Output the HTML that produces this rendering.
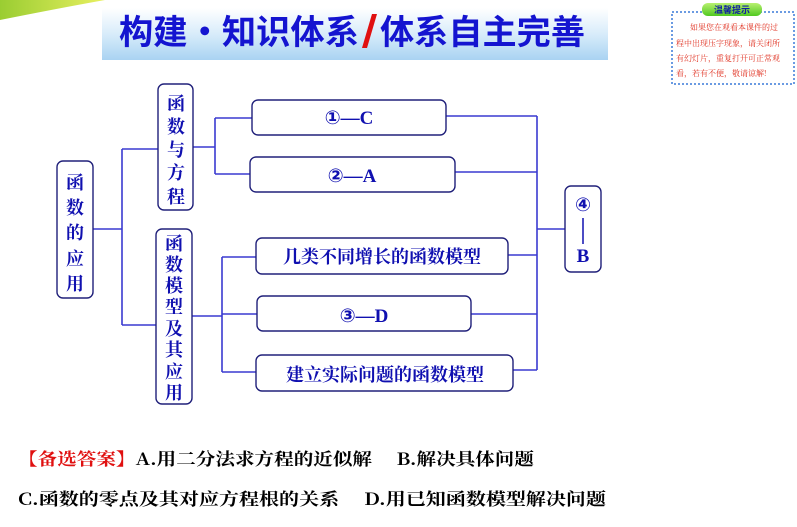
<!DOCTYPE html>
<html><head><meta charset="utf-8"><style>
body{margin:0;width:797px;height:527px;background:#fff;overflow:hidden;position:relative;font-family:"Liberation Serif","Noto Serif CJK SC",serif}
svg{position:absolute;left:0;top:0}
</style></head><body>
<svg width="797" height="527" viewBox="0 0 797 527">
<defs>
<linearGradient id="sw" x1="0" y1="0" x2="1" y2="0"><stop offset="0" stop-color="#9acd32"/><stop offset="1" stop-color="#e8f060"/></linearGradient>
<linearGradient id="bn" x1="0" y1="0" x2="0" y2="1"><stop offset="0" stop-color="#ffffff"/><stop offset="0.5" stop-color="#d8ecfa"/><stop offset="1" stop-color="#a9d3f2"/></linearGradient>
<linearGradient id="tag" x1="0" y1="0" x2="0" y2="1"><stop offset="0" stop-color="#b8f070"/><stop offset="1" stop-color="#50c820"/></linearGradient>
</defs>
<path d="M0,0 L105,0 Q60,8 0,20 Z" fill="url(#sw)"/>
<rect x="102" y="8" width="506" height="52" fill="url(#bn)"/>
<g font-family="'Noto Sans CJK SC',sans-serif" font-size="34" font-weight="bold" fill="#1414d0">
<text x="119" y="44" textLength="240" lengthAdjust="spacingAndGlyphs">构建·知识体系</text>
<text x="380" y="44" textLength="205" lengthAdjust="spacingAndGlyphs">体系自主完善</text>
</g>
<path d="M362,48 L372,14 L377,14 L367,48 Z" fill="#e01010"/>
<rect x="672" y="12" width="122" height="72" fill="#fff" stroke="#3a7ad8" stroke-width="1.5" stroke-dasharray="2,2"/>
<rect x="702" y="3" width="60" height="13" rx="6" fill="url(#tag)"/>
<text x="732" y="13" text-anchor="middle" font-family="'Noto Sans CJK SC',sans-serif" font-size="9" fill="#1020a0" font-weight="bold">温馨提示</text>
<g font-family="'Noto Serif CJK SC',serif" font-size="8" fill="#e03020">
<text x="690" y="30">如果您在观看本课件的过</text>
<text x="676" y="46">程中出现压字现象，请关闭所</text>
<text x="676" y="61">有幻灯片，重复打开可正常观</text>
<text x="676" y="76">看，若有不便，敬请谅解!</text>
</g>
<g stroke="#3a3ad0" stroke-width="1.6" fill="none">
<path d="M93,229 H122 M122,149 V325 M122,149 H158 M122,325 H156"/>
<path d="M193,147 H215 M215,118 V174 M215,118 H252 M215,174 H250"/>
<path d="M192,316 H222 M222,257 V372 M222,257 H256 M222,314 H257 M222,372 H256"/>
<path d="M446,116 H537 M455,172 H537 M508,255 H537 M471,314 H537 M513,370 H537 M537,116 V370 M537,229 H565"/>
</g>
<g stroke="#20207a" stroke-width="1.4" fill="#fff">
<rect x="57" y="161" width="36" height="137" rx="6"/>
<rect x="158" y="84" width="35" height="126" rx="6"/>
<rect x="156" y="229" width="36" height="175" rx="6"/>
<rect x="252" y="100" width="194" height="35" rx="6"/>
<rect x="250" y="157" width="205" height="35" rx="6"/>
<rect x="256" y="238" width="252" height="36" rx="6"/>
<rect x="257" y="296" width="214" height="35" rx="6"/>
<rect x="256" y="355" width="257" height="36" rx="6"/>
<rect x="565" y="186" width="36" height="86" rx="6"/>
</g>
<g font-family="'Noto Serif CJK SC',serif" font-weight="bold" font-size="18" fill="#1010b0" text-anchor="middle">
<text x="75" y="189">函</text><text x="75" y="214">数</text><text x="75" y="239">的</text><text x="75" y="265">应</text><text x="75" y="290">用</text>
<text x="176" y="110">函</text><text x="176" y="133">数</text><text x="176" y="156">与</text><text x="176" y="179">方</text><text x="176" y="203">程</text>
<text x="174" y="250">函</text><text x="174" y="271">数</text><text x="174" y="292">模</text><text x="174" y="313">型</text><text x="174" y="335">及</text><text x="174" y="356">其</text><text x="174" y="378">应</text><text x="174" y="399">用</text>
<text x="382" y="263">几类不同增长的函数模型</text>
<text x="385" y="381">建立实际问题的函数模型</text>
</g>
<g font-family="'Liberation Serif','DejaVu Sans',serif" font-size="19" fill="#1010b0" text-anchor="middle" font-weight="bold">
<text x="349" y="124">①—C</text>
<text x="352" y="182">②—A</text>
<text x="364" y="322">③—D</text>
<text x="583" y="211">④</text>
<text x="583" y="262">B</text>
</g>
<line x1="583" y1="218" x2="583" y2="244" stroke="#1010b0" stroke-width="1.5"/>
<g font-family="'Noto Serif CJK SC',serif" font-size="17" font-weight="bold" fill="#000">
<text x="18" y="465" textLength="516" lengthAdjust="spacingAndGlyphs"><tspan fill="#e01010">【备选答案】</tspan>A.用二分法求方程的近似解　 B.解决具体问题</text>
<text x="18" y="505" textLength="588" lengthAdjust="spacingAndGlyphs">C.函数的零点及其对应方程根的关系　 D.用已知函数模型解决问题</text>
</g>
</svg>
</body></html>
